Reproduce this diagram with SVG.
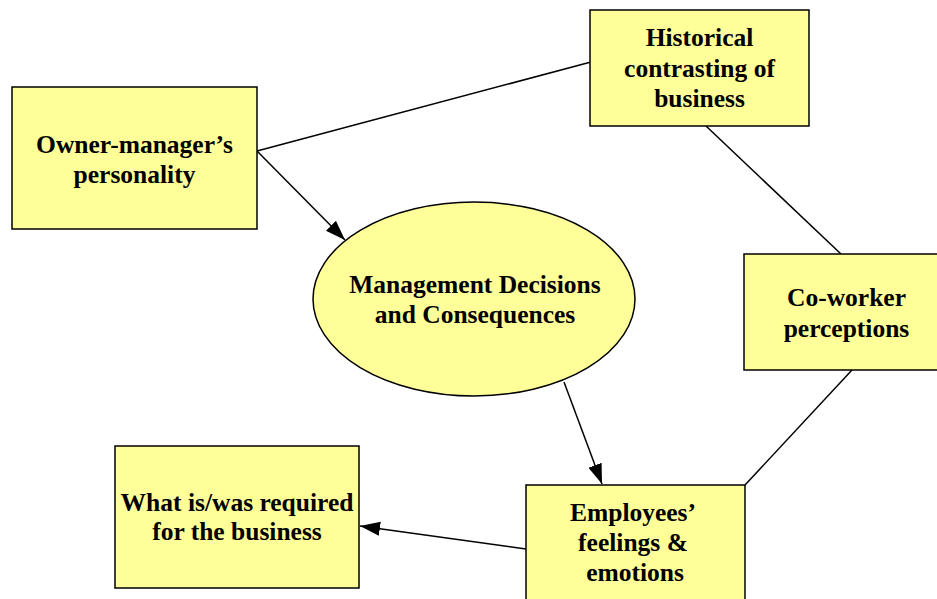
<svg xmlns="http://www.w3.org/2000/svg" width="937" height="599" viewBox="0 0 937 599">
<style>
.node{fill:#FFFF99;stroke:#000;stroke-width:1.5}
.lbl{font-family:"Liberation Serif","Times New Roman",serif;font-weight:bold;font-size:25.5px;fill:#000;text-anchor:middle}
.edge{stroke:#000;stroke-width:1.5;fill:none}
</style>
<defs>
<marker id="arr" markerUnits="userSpaceOnUse" markerWidth="22" markerHeight="18" viewBox="0 0 22 18" refX="20" refY="9" orient="auto">
<path d="M0,2 L20,9 L0,16 Z" fill="#000"/>
</marker>
</defs>
<rect width="937" height="599" fill="#fff"/>
<g id="connectors">
<line class="edge" x1="257" y1="151" x2="591" y2="62"/>
<line class="edge" x1="706" y1="126" x2="841" y2="254"/>
<line class="edge" x1="852" y1="370" x2="745" y2="485"/>
<line class="edge" x1="257" y1="151" x2="345" y2="240" marker-end="url(#arr)"/>
<line class="edge" x1="564" y1="382" x2="602" y2="484" marker-end="url(#arr)"/>
<line class="edge" x1="526" y1="549" x2="360" y2="526" marker-end="url(#arr)"/>
</g>
<g id="owner">
<rect class="node" x="12" y="87" width="245" height="142"/>
<text class="lbl" x="134.5" y="153">Owner-manager’s</text>
<text class="lbl" x="134.5" y="183">personality</text>
</g>
<g id="historical">
<rect class="node" x="590" y="10" width="219" height="116"/>
<text class="lbl" x="699.5" y="46">Historical</text>
<text class="lbl" x="699.5" y="77">contrasting of</text>
<text class="lbl" x="699.5" y="107">business</text>
</g>
<g id="coworker">
<rect class="node" x="744" y="254" width="205" height="116"/>
<text class="lbl" x="846.5" y="306">Co-worker</text>
<text class="lbl" x="846.5" y="337">perceptions</text>
</g>
<g id="management">
<ellipse class="node" cx="474" cy="299" rx="161" ry="97"/>
<text class="lbl" x="475" y="293">Management Decisions</text>
<text class="lbl" x="475" y="323">and Consequences</text>
</g>
<g id="required">
<rect class="node" x="115" y="446" width="244" height="142"/>
<text class="lbl" x="237" y="511">What is/was required</text>
<text class="lbl" x="237" y="540">for the business</text>
</g>
<g id="employees">
<rect class="node" x="526" y="485" width="219" height="130"/>
<text class="lbl" x="633" y="521">Employees’</text>
<text class="lbl" x="633" y="551">feelings &amp;</text>
<text class="lbl" x="635" y="581">emotions</text>
</g>
</svg>
